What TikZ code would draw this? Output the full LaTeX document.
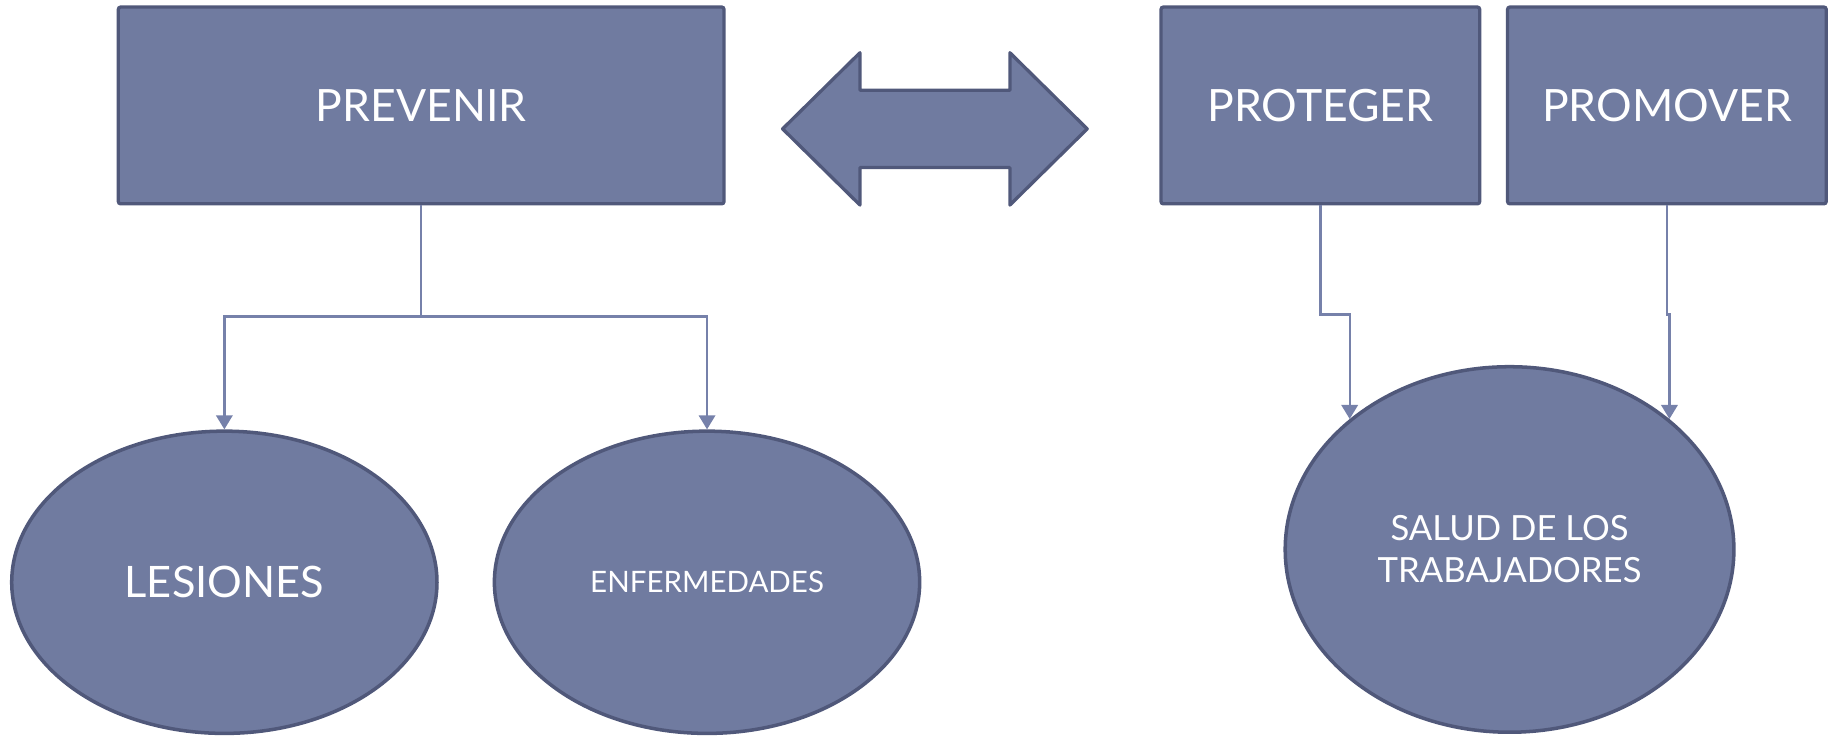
\documentclass[tikz,border=0pt]{standalone}
\usepackage{fontspec}
\setmainfont{Lato}
\usetikzlibrary{arrows.meta,positioning,shapes.geometric}
\definecolor{boxfill}{RGB}{112,123,160}
\definecolor{boxline}{RGB}{80,88,122}
\definecolor{linkline}{RGB}{118,129,170}
\tikzset{
    every picture/.style={x=0.5pt,y=-0.5pt},
    block/.style={draw=boxline,fill=boxfill,line width=1.4pt,rounded corners=1pt,
        text=white,inner sep=0pt,minimum height=84pt,font=\fontsize{19}{23}\selectfont},
    blob/.style={ellipse,draw=boxline,fill=boxfill,line width=1.5pt,text=white,
        inner sep=0pt,minimum width=181.5pt,minimum height=129pt,align=center},
    link/.style={draw=linkline,line width=1pt,-{Triangle[width=7pt,length=6pt]}}
}

\begin{document}
\begin{tikzpicture}
    \useasboundingbox (0,0) rectangle (1568,627.4);
    \node[block,minimum width=258.5pt] (prevenir) at (359.5,90) {PREVENIR};
    \node[block,minimum width=136pt]   (proteger) at (1127,90)  {PROTEGER};
    \node[block,minimum width=136pt]   (promover) [right=10.5pt of proteger] {PROMOVER};
    \node[blob,font=\fontsize{18.5}{22}\selectfont] (lesiones) at (191.5,497) {LESIONES};
    \node[blob,font=\fontsize{12.6}{15}\selectfont] (enfermedades) [right=23pt of lesiones] {ENFERMEDADES};
    \node[blob,minimum width=191.5pt,minimum height=156pt,font=\fontsize{14.8}{18}\selectfont]
        (salud) at (1288.5,469) {SALUD DE LOS\\TRABAJADORES};
    % double arrow between the two groups
    \draw[fill=boxfill,draw=boxline,line width=1.4pt,line join=round]
        (668,110) -- (734,45) -- (734,77) -- (862,77) -- (862,45) -- (928,110)
        -- (862,175) -- (862,143) -- (734,143) -- (734,175) -- cycle;
    \coordinate (fork) at (359.5,270);
    \draw[link] (prevenir.south) -- (fork) -| (lesiones.north);
    \draw[link] (fork) -| (enfermedades.north);
    \draw[link] (proteger.south) -- ++(0,93) -| (salud.north west);
    \draw[link] (promover.south) -- ++(0,93) -| (salud.north east);
\end{tikzpicture}
\end{document}
